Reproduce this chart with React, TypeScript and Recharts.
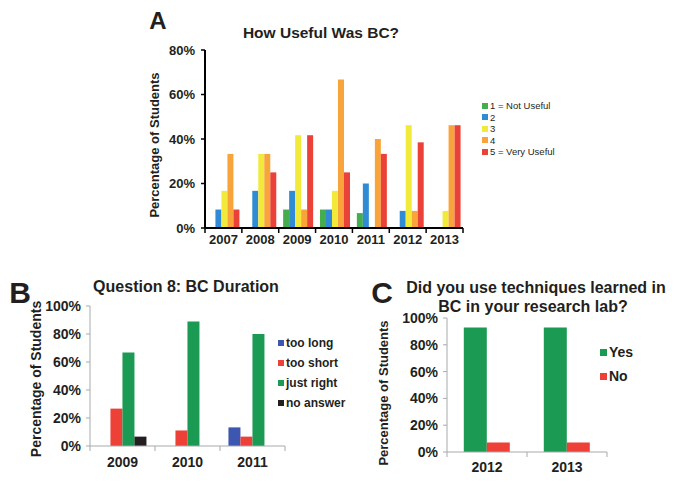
import { Bar, BarChart, XAxis, YAxis } from "recharts";

// Panel A - How Useful Was BC?
const usefulYears = ["2007", "2008", "2009", "2010", "2011", "2012", "2013"];
const notUseful = [0, 0, 8.3, 8.3, 6.7, 0, 0];
const rating2 = [8.3, 16.7, 16.7, 8.3, 20, 7.7, 0];
const rating3 = [16.7, 33.3, 41.7, 16.7, 0, 46.2, 7.7];
const rating4 = [33.3, 33.3, 8.3, 66.7, 40, 7.7, 46.2];
const veryUseful = [8.3, 25, 41.7, 25, 33.3, 38.5, 46.2];
const usefulTicks = [0, 20, 40, 60, 80];

// Panel B - Question 8: BC Duration
const durationYears = ["2009", "2010", "2011"];
const tooLong = [0, 0, 13.3];
const tooShort = [26.7, 11.1, 6.7];
const justRight = [66.7, 88.9, 80];
const noAnswer = [6.7, 0, 0];

// Panel C - techniques used in research lab
const labYears = ["2012", "2013"];
const yes = [92.9, 92.9];
const no = [7.1, 7.1];

const pctTicks = [0, 20, 40, 60, 80, 100];

const FONT = "'Liberation Sans', Arial, sans-serif";
const INK = "#231f20";

const usefulSeries = [
  { key: "r1", name: "1 = Not Useful", color: "#45ad4e", values: notUseful },
  { key: "r2", name: "2", color: "#2f8cd4", values: rating2 },
  { key: "r3", name: "3", color: "#f2ea3a", values: rating3 },
  { key: "r4", name: "4", color: "#f8a43b", values: rating4 },
  { key: "r5", name: "5 = Very Useful", color: "#ea4238", values: veryUseful },
];

const durationSeries = [
  { key: "long", name: "too long", color: "#3d57b0", values: tooLong },
  { key: "short", name: "too short", color: "#ed4037", values: tooShort },
  { key: "right", name: "just right", color: "#1b9a53", values: justRight },
  { key: "none", name: "no answer", color: "#231f20", values: noAnswer },
];

const labSeries = [
  { key: "yes", name: "Yes", color: "#1b9a53", values: yes },
  { key: "no", name: "No", color: "#ed4037", values: no },
];

type Series = { key: string; name: string; color: string; values: number[] };

const toRows = (cats: string[], series: Series[]) =>
  cats.map((c, i) => {
    const row: Record<string, string | number> = { year: c };
    series.forEach((s) => (row[s.key] = s.values[i]));
    return row;
  });

const pct = (v: number) => `${v}%`;

// category tick: label in the middle, tick marks at the category edges
const edgeTick = (opts: { offset: number; len: number; stroke: string; strokeWidth: number; fontSize: number }) =>
  (props: any) => {
    const { x, y, payload, index, visibleTicksCount, width } = props;
    const band = width && visibleTicksCount ? width / visibleTicksCount : (payload.offset || 0) * 2;
    const axisY = y - opts.offset;
    const left = x - band / 2;
    const right = x + band / 2;
    const line = (lx: number) => (
      <line x1={lx} x2={lx} y1={axisY} y2={axisY + opts.len} stroke={opts.stroke} strokeWidth={opts.strokeWidth} />
    );
    return (
      <g>
        {index === 0 && line(left)}
        {line(right)}
        <text x={x} y={y} dy="0.71em" textAnchor="middle" fill={INK} fontSize={opts.fontSize} fontWeight="bold" fontFamily={FONT}>
          {payload.value}
        </text>
      </g>
    );
  };

function Centered({ x, y, size, bold = true, rotate = 0, children }: any) {
  return (
    <div
      style={{
        position: "absolute",
        left: x,
        top: y,
        transform: `translate(-50%, -50%) rotate(${rotate}deg)`,
        fontSize: size,
        fontWeight: bold ? "bold" : "normal",
        whiteSpace: "nowrap",
        lineHeight: 1,
        color: INK,
      }}
    >
      {children}
    </div>
  );
}

function HtmlLegend({ x, y, series, size, gap, box, bold }: any) {
  return (
    <div style={{ position: "absolute", left: x, top: y }}>
      {series.map((s: Series) => (
        <div
          key={s.key}
          style={{ display: "flex", alignItems: "center", height: gap, fontSize: size, fontWeight: bold ? "bold" : "normal", color: INK, whiteSpace: "nowrap" }}
        >
          <span style={{ width: box, height: box, background: s.color, marginRight: 2, display: "inline-block" }} />
          {s.name}
        </div>
      ))}
    </div>
  );
}

export default function App() {
  const usefulData = toRows(usefulYears, usefulSeries);
  const durationData = toRows(durationYears, durationSeries);
  const labData = toRows(labYears, labSeries);

  const grey = "#a7a9ac";
  const tickStyle = { fill: INK, fontSize: 14, fontWeight: "bold", fontFamily: FONT };

  return (
    <div style={{ position: "absolute", left: 0, top: 0, width: 674, height: 484, background: "#fff", fontFamily: FONT, overflow: "hidden" }}>
      {/* Panel A */}
      <div style={{ position: "absolute", left: 140, top: 40 }}>
        <BarChart width={340} height={212} data={usefulData} margin={{ top: 10, right: 17, bottom: 0, left: 0 }} barCategoryGap="12%" barGap={0}>
          <XAxis
            dataKey="year"
            axisLine={{ stroke: "#000", strokeWidth: 2 }}
            tickLine={false}
            tickSize={3}
            tickMargin={4}
            interval={0}
            height={24}
            tick={edgeTick({ offset: 7, len: 5, stroke: "#000", strokeWidth: 1.5, fontSize: 13 })}
          />
          <YAxis
            width={65}
            domain={[0, 80]}
            ticks={usefulTicks}
            tickFormatter={pct}
            axisLine={{ stroke: "#000", strokeWidth: 2 }}
            tickLine={{ stroke: "#000", strokeWidth: 1.5 }}
            tickSize={4}
            tickMargin={6}
            tick={{ ...tickStyle, fontSize: 13 }}
          />
          {usefulSeries.map((s) => (
            <Bar key={s.key} dataKey={s.key} name={s.name} fill={s.color} isAnimationActive={false} />
          ))}
        </BarChart>
      </div>
      <Centered x={158} y={21} size={24}>A</Centered>
      <Centered x={321} y={33} size={15.5}>How Useful Was BC?</Centered>
      <Centered x={154} y={145} size={13} rotate={-90}>Percentage of Students</Centered>
      <HtmlLegend x={482} y={100} series={usefulSeries} size={9.5} gap={11.5} box={6} bold={false} />

      {/* Panel B */}
      <div style={{ position: "absolute", left: 30, top: 296 }}>
        <BarChart width={270} height={180} data={durationData} margin={{ top: 10, right: 15, bottom: 0, left: 0 }} barCategoryGap="13%" barGap={0}>
          <XAxis
            dataKey="year"
            axisLine={{ stroke: grey }}
            tickLine={false}
            tickSize={5}
            tickMargin={6}
            interval={0}
            height={30}
            tick={edgeTick({ offset: 11, len: 5, stroke: grey, strokeWidth: 1, fontSize: 14 })}
          />
          <YAxis
            width={60}
            domain={[0, 100]}
            ticks={pctTicks}
            tickFormatter={pct}
            axisLine={{ stroke: grey }}
            tickLine={{ stroke: grey }}
            tickSize={4}
            tickMargin={5}
            tick={tickStyle}
          />
          {durationSeries.map((s) => (
            <Bar key={s.key} dataKey={s.key} name={s.name} fill={s.color} isAnimationActive={false} />
          ))}
        </BarChart>
      </div>
      <Centered x={20} y={293} size={30}>B</Centered>
      <Centered x={186} y={287} size={16}>Question 8: BC Duration</Centered>
      <Centered x={36} y={379} size={14} rotate={-90}>Percentage of Students</Centered>
      <HtmlLegend x={278} y={333} series={durationSeries} size={12} gap={20} box={6} bold={true} />

      {/* Panel C */}
      <div style={{ position: "absolute", left: 387, top: 308 }}>
        <BarChart width={232} height={172} data={labData} margin={{ top: 10, right: 12, bottom: 0, left: 0 }} barCategoryGap="21%" barGap={0}>
          <XAxis
            dataKey="year"
            axisLine={{ stroke: grey }}
            tickLine={false}
            tickSize={4}
            tickMargin={6}
            interval={0}
            height={28}
            tick={edgeTick({ offset: 10, len: 5, stroke: grey, strokeWidth: 1, fontSize: 14 })}
          />
          <YAxis
            width={60}
            domain={[0, 100]}
            ticks={pctTicks}
            tickFormatter={pct}
            axisLine={{ stroke: grey }}
            tickLine={{ stroke: grey }}
            tickSize={4}
            tickMargin={5}
            tick={tickStyle}
          />
          {labSeries.map((s) => (
            <Bar key={s.key} dataKey={s.key} name={s.name} fill={s.color} isAnimationActive={false} />
          ))}
        </BarChart>
      </div>
      <Centered x={382} y={293} size={30}>C</Centered>
      <Centered x={536} y={288} size={16}>Did you use techniques learned in</Centered>
      <Centered x={533} y={307} size={16}>BC in your research lab?</Centered>
      <Centered x={383} y={393} size={13} rotate={-90}>Percentage of Students</Centered>
      <HtmlLegend x={600} y={340} series={labSeries} size={14} gap={24} box={7} bold={true} />
    </div>
  );
}
